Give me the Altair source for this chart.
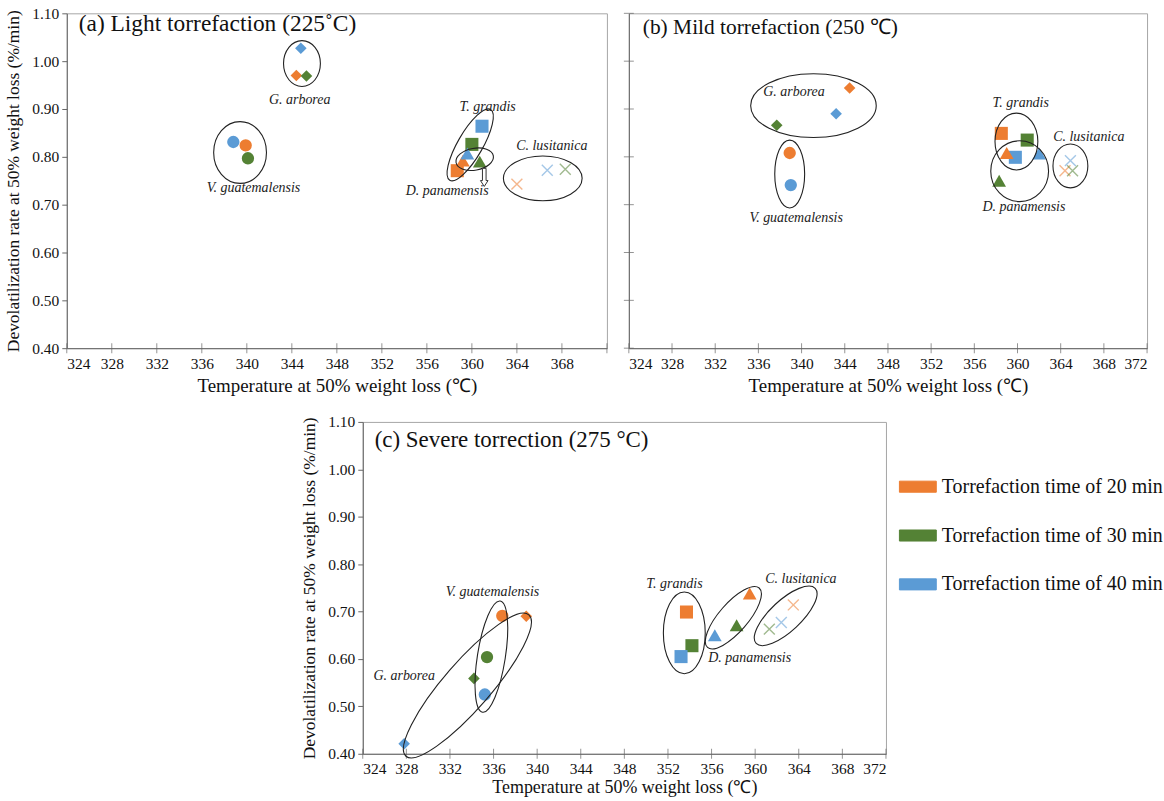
import altair as alt
import pandas as pd

# ---------------------------------------------------------------------------
# Data: temperature (°C) and devolatilization rate (%/min) at 50 % weight loss
# order inside each species block: 20 min, 30 min, 40 min of torrefaction
# ---------------------------------------------------------------------------
SPECIES = ["G. arborea", "V. guatemalensis", "T. grandis", "D. panamensis", "C. lusitanica"]
TIMES = ["Torrefaction time of 20 min", "Torrefaction time of 30 min", "Torrefaction time of 40 min"]
COLORS = ["#ED7D31", "#548235", "#5B9BD5"]

X_TICKS = [324, 328, 332, 336, 340, 344, 348, 352, 356, 360, 364, 368, 372]
Y_TICKS = [0.40, 0.50, 0.60, 0.70, 0.80, 0.90, 1.00, 1.10]

# (a) light torrefaction, 225 °C
A_TEMP = [344.4, 345.3, 344.8, 339.9, 340.1, 338.8, 358.7, 360.0, 360.9,
          359.2, 360.7, 359.6, 364.0, 368.3, 366.7]
A_RATE = [0.970, 0.969, 1.027, 0.824, 0.797, 0.831, 0.771, 0.826, 0.864,
          0.792, 0.790, 0.807, 0.743, 0.774, 0.772]

# (b) mild torrefaction, 250 °C  (None = not plotted)
B_TEMP = [344.45, 337.7, 343.2, 338.9, None, 339.0, 358.5, 360.9, 359.8,
          359.0, 358.3, 362.0, 364.4, 365.1, 364.9]
B_RATE = [0.944, 0.866, 0.890, 0.808, None, 0.741, 0.849, 0.835, 0.799,
          0.808, 0.750, 0.807, 0.771, 0.771, 0.792]

# (c) severe torrefaction, 275 °C
C_TEMP = [339.0, 334.2, 327.8, 336.8, 335.4, 335.2, 353.7, 354.2, 353.2,
          359.5, 358.3, 356.3, 363.5, 361.3, 362.4]
C_RATE = [0.690, 0.559, 0.421, 0.691, 0.604, 0.525, 0.699, 0.628, 0.605,
          0.738, 0.671, 0.650, 0.714, 0.663, 0.677]

# species label anchors (temperature, rate)
A_LABEL_T = [344.7, 340.6, 361.4, 357.8, 367.1]
A_LABEL_R = [0.918, 0.734, 0.904, 0.729, 0.823]
B_LABEL_T = [339.3, 339.5, 360.3, 360.6, 366.6]
B_LABEL_R = [0.935, 0.672, 0.912, 0.695, 0.841]
C_LABEL_T = [327.8, 335.9, 352.6, 359.5, 364.2]
C_LABEL_R = [0.565, 0.741, 0.758, 0.603, 0.769]

# grouping ellipses: centre (temperature, rate), major/minor axis in px, rotation in degrees
A_ELL = [(344.9, 0.995, 46, 37, 90), (339.4, 0.809, 62, 53, 90), (359.85, 0.825, 82, 25, 300),
         (360.25, 0.795, 38, 22, 350), (366.3, 0.755, 79, 45, 0)]
B_ELL = [(341.1, 0.907, 126, 64, 0), (338.9, 0.764, 68, 30, 90), (359.9, 0.832, 57, 43, 90),
         (360.2, 0.770, 61, 58, 90), (364.9, 0.781, 44, 35, 90)]
C_ELL = [(333.6, 0.544, 188, 47, 311), (335.8, 0.605, 113, 28, 279), (353.5, 0.655, 82, 42, 90),
         (358.0, 0.687, 79, 29, 311), (362.8, 0.691, 81, 31, 317)]

SERIF = "Liberation Serif"
AXIS_GREY = "#666"
MARK_SHAPES = ["diamond", "circle", "square", "triangle-up"]
MARK_SIZES = [135, 190, 170, 170]
X_SHAPE = "M -1,-1 L 1,1 M -1,1 L 1,-1"
ARROW_SHAPE = "M -0.2,-1 L 0.2,-1 L 0.2,0.35 L 0.42,0.35 L 0,1 L -0.42,0.35 L -0.2,0.35 Z"


def ellipse_path(ratio):
    k = 0.5523
    r = ratio
    return (f"M 1,0 C 1,{k*r:.4f} {k:.4f},{r:.4f} 0,{r:.4f} "
            f"C {-k:.4f},{r:.4f} -1,{k*r:.4f} -1,0 "
            f"C -1,{-k*r:.4f} {-k:.4f},{-r:.4f} 0,{-r:.4f} "
            f"C {k:.4f},{-r:.4f} 1,{-k*r:.4f} 1,0 Z")


def points_frame(temps, rates):
    rows = []
    for i, sp in enumerate(SPECIES):
        for j, t in enumerate(TIMES):
            k = i * 3 + j
            if temps[k] is None:
                continue
            rows.append({"species": sp, "time": t, "temp": temps[k], "rate": rates[k]})
    return pd.DataFrame(rows)


def ellipse_frame(ells):
    rows = []
    for cx, cy, major, minor, ang in ells:
        rows.append({"temp": cx, "rate": cy, "path": ellipse_path(minor / major),
                     "size": major * major, "angle": ang})
    return pd.DataFrame(rows)


AXIS_STYLE = dict(labelFont=SERIF, labelFontSize=15.5, labelColor="#111",
                  titleFont=SERIF, titleFontWeight="normal", titleColor="#111",
                  domainColor=AXIS_GREY, tickColor=AXIS_GREY, grid=False)


def panel(temps, rates, lab_t, lab_r, ells, title, tx, ty, tsize, width, height,
          y_labels=True, legend=None, arrow=None, x_labels=None, x_title_pad=5,
          x_title_size=19):
    df = points_frame(temps, rates)
    shown = x_labels or X_TICKS
    xs = alt.X("temp:Q", scale=alt.Scale(domain=[324, 372], nice=False, zero=False),
               axis=alt.Axis(values=shown, format="d", ticks=False, labelPadding=8,
                             title="Temperature at 50% weight loss (℃)",
                             titleFontSize=x_title_size, titlePadding=x_title_pad, **AXIS_STYLE))
    if y_labels:
        yaxis = alt.Axis(values=Y_TICKS, format=".2f", tickSize=5, labelPadding=3,
                         title="Devolatilization rate at 50% weight loss (%/min)",
                         titleFontSize=17.5, titlePadding=9, **AXIS_STYLE)
    else:
        yaxis = alt.Axis(values=Y_TICKS, labels=False, ticks=False, title=None, **AXIS_STYLE)
    ys = alt.Y("rate:Q", scale=alt.Scale(domain=[0.4, 1.1], nice=False, zero=False), axis=yaxis)
    color_scale = alt.Scale(domain=TIMES, range=COLORS)

    # x ticks crossing the axis line
    xticks = alt.Chart(pd.DataFrame({"temp": X_TICKS})).mark_tick(
        color=AXIS_GREY, size=10, thickness=1, orient="vertical").encode(
        x="temp:Q", y=alt.value(height))
    layers = [xticks]
    if not y_labels:
        layers.append(alt.Chart(pd.DataFrame({"rate": Y_TICKS})).mark_tick(
            color=AXIS_GREY, size=10, thickness=1, orient="horizontal").encode(
            y="rate:Q", x=alt.value(0)))

    filled = alt.Chart(df[df.species != "C. lusitanica"]).mark_point(
        filled=True, opacity=1).encode(
        x=xs, y=ys,
        color=alt.Color("time:N", scale=color_scale, legend=legend),
        shape=alt.Shape("species:N", scale=alt.Scale(domain=SPECIES[:4], range=MARK_SHAPES), legend=None),
        size=alt.Size("species:N", scale=alt.Scale(domain=SPECIES[:4], range=MARK_SIZES), legend=None),
    )
    crosses = alt.Chart(df[df.species == "C. lusitanica"]).mark_point(
        filled=False, opacity=0.55, strokeWidth=1.4, shape=X_SHAPE, size=120).encode(
        x="temp:Q", y="rate:Q",
        color=alt.Color("time:N", scale=color_scale, legend=None),
    )
    ell = alt.Chart(ellipse_frame(ells)).mark_point(
        filled=False, opacity=1, color="#222", strokeWidth=1.1).encode(
        x="temp:Q", y="rate:Q",
        shape=alt.Shape("path:N", scale=None),
        size=alt.Size("size:Q", scale=None),
        angle=alt.Angle("angle:Q", scale=None),
    )
    labels = alt.Chart(pd.DataFrame({"species": SPECIES, "temp": lab_t, "rate": lab_r})).mark_text(
        font=SERIF, fontStyle="italic", fontSize=14, color="#222").encode(
        x="temp:Q", y="rate:Q", text="species:N")
    head = alt.Chart(pd.DataFrame({"t": [title]})).mark_text(
        font=SERIF, fontSize=tsize, align="left", baseline="middle", color="#111").encode(
        text="t:N", x=alt.value(tx), y=alt.value(ty))
    layers = [filled] + layers + [ell, crosses, labels, head]
    if arrow is not None:
        layers.append(alt.Chart(pd.DataFrame({"temp": [arrow[0]], "rate": [arrow[1]]})).mark_point(
            shape=ARROW_SHAPE, size=330, filled=True, fill="white", stroke="#333",
            strokeWidth=1, opacity=1).encode(x="temp:Q", y="rate:Q"))
    return alt.layer(*layers).properties(width=width, height=height)


pa = panel(A_TEMP, A_RATE, A_LABEL_T, A_LABEL_R, A_ELL, "(a) Light torrefaction (225˚C)",
           12, 11, 23.5, 542, 336, arrow=(361.1, 0.757), x_labels=X_TICKS[:-1])
pb = panel(B_TEMP, B_RATE, B_LABEL_T, B_LABEL_R, B_ELL, "(b) Mild torrefaction (250 ℃)",
           14, 15, 21.5, 520, 336, y_labels=False)
legend = alt.Legend(title=None, orient="none", legendX=538, legendY=46,
                    symbolType="M -1,-0.3 L 1,-0.3 L 1,0.3 L -1,0.3 Z", symbolSize=1369,
                    symbolStrokeColor="#555", symbolStrokeWidth=1, symbolOpacity=1,
                    labelFont=SERIF, labelFontSize=20, labelColor="#111", labelLimit=0,
                    labelOffset=5, rowPadding=20)
pc = panel(C_TEMP, C_RATE, C_LABEL_T, C_LABEL_R, C_ELL, "(c)  Severe torrection (275 °C)",
           12, 18, 23, 525, 333, legend=legend, x_title_pad=1, x_title_size=18)

spacer = alt.Chart(pd.DataFrame({"v": [0]})).mark_point(opacity=0).encode(
    x=alt.X("v:Q", axis=None), y=alt.Y("v:Q", axis=None)
).properties(width=234, height=10, view=alt.ViewBackground(strokeOpacity=0))

top = alt.hconcat(pa, pb, spacing=15).resolve_scale(color="independent", shape="independent")
bottom = alt.hconcat(spacer, pc, spacing=0).resolve_scale(color="independent", shape="independent")

chart = alt.vconcat(top, bottom, spacing=18).resolve_scale(
    color="independent", shape="independent"
).properties(
    padding={"left": 4, "top": 4, "right": 0, "bottom": 0}, background="white"
).configure_view(
    stroke="#a6a6a6", strokeWidth=1
)

chart.save("out.html", embed_options={"renderer": "svg", "actions": False})
